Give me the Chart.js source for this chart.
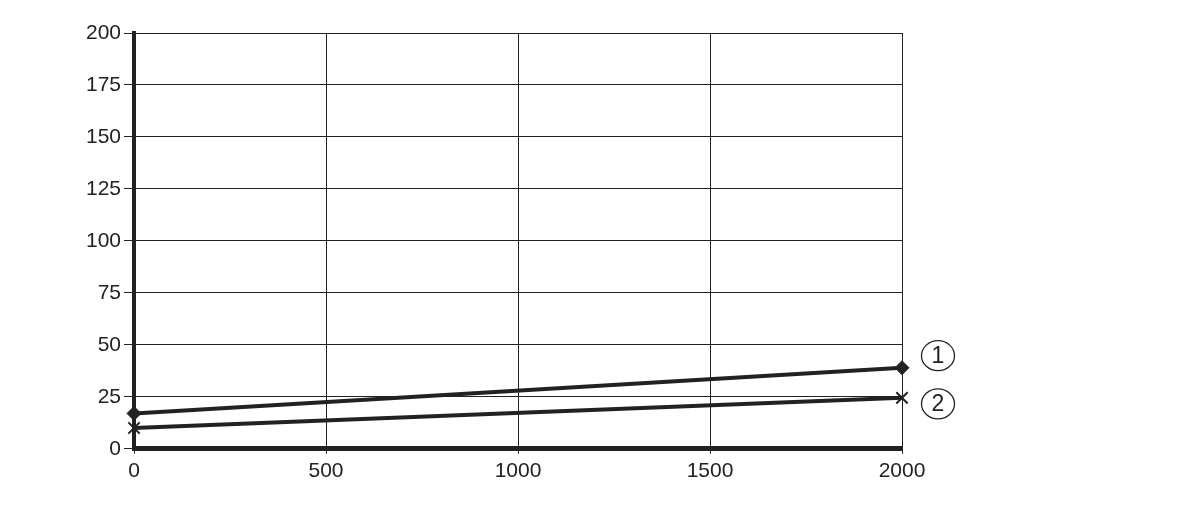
<!DOCTYPE html>
<html>
<head>
<meta charset="utf-8">
<script src="https://cdn.jsdelivr.net/npm/chart.js@4"></script>
<style>
  html, body { margin: 0; padding: 0; background: #fff; }
  #wrap { width: 1199px; height: 505px; }
</style>
</head>
<body>
<div id="wrap"><canvas id="chart"></canvas></div>
<script>
// data
const xValues = [0, 2000];
const series1 = [17, 39];
const series2 = [10, 24.5];
const seriesLabels = ["1", "2"];
const yTicks = [0, 25, 50, 75, 100, 125, 150, 175, 200];
const xTicks = [0, 500, 1000, 1500, 2000];

const ink = "#222";
const fontFamily = "'Liberation Sans', Arial, sans-serif";

// circled number next to the last point of each line
const circledLabels = {
    id: "circledLabels",
    afterDatasetsDraw(chart) {
        const c = chart.ctx;
        const offsets = [-12, 6];
        chart.data.datasets.forEach((ds, i) => {
            const meta = chart.getDatasetMeta(i);
            const last = meta.data[meta.data.length - 1];
            const cx = last.x + 36;
            const cy = last.y + offsets[i];
            c.save();
            c.strokeStyle = ink;
            c.lineWidth = 1.3;
            c.beginPath();
            c.ellipse(cx, cy, 16.5, 15, 0, 0, Math.PI * 2);
            c.stroke();
            c.fillStyle = ink;
            c.font = "23px " + fontFamily;
            c.textAlign = "center";
            c.textBaseline = "middle";
            c.fillText(seriesLabels[i], cx, cy + 1);
            c.restore();
        });
    }
};

const ctx = document.getElementById("chart");
new Chart(ctx, {
    type: "line",
    data: {
        datasets: [{
            label: seriesLabels[0],
            data: xValues.map((x, i) => ({ x: x, y: series1[i] })),
            borderColor: ink,
            backgroundColor: ink,
            borderWidth: 4,
            pointStyle: "rectRot",
            pointRadius: 7,
            pointBorderWidth: 1,
            clip: false,
        }, {
            label: seriesLabels[1],
            data: xValues.map((x, i) => ({ x: x, y: series2[i] })),
            borderColor: ink,
            backgroundColor: ink,
            borderWidth: 4,
            pointStyle: "crossRot",
            pointRadius: 8,
            pointBorderWidth: 2,
            clip: false,
        }],
    },
    plugins: [circledLabels],
    options: {
        responsive: true,
        maintainAspectRatio: false,
        animation: false,
        layout: { padding: { left: 0, right: 297, top: 33, bottom: 16 } },
        plugins: { legend: { display: false }, tooltip: { enabled: false } },
        scales: {
            x: {
                type: "linear",
                min: 0,
                max: 2000,
                afterBuildTicks: (axis) => { axis.ticks = xTicks.map(v => ({ value: v })); },
                grid: { color: ink, lineWidth: 1, tickLength: 5, drawTicks: true },
                border: { color: ink, width: 5 },
                ticks: {
                    color: ink,
                    padding: 5,
                    font: { family: fontFamily, size: 21 },
                    maxRotation: 0,
                    callback: (v) => String(v),
                },
            },
            y: {
                min: 0,
                max: 200,
                afterBuildTicks: (axis) => { axis.ticks = yTicks.map(v => ({ value: v })); },
                grid: { color: ink, lineWidth: 1, tickLength: 10, drawTicks: true },
                border: { color: ink, width: 4 },
                ticks: {
                    color: ink,
                    padding: 3,
                    font: { family: fontFamily, size: 21 },
                    callback: (v) => String(v),
                },
                afterFit: (axis) => { axis.width = 134; },
            },
        },
    },
});
</script>
</body>
</html>
